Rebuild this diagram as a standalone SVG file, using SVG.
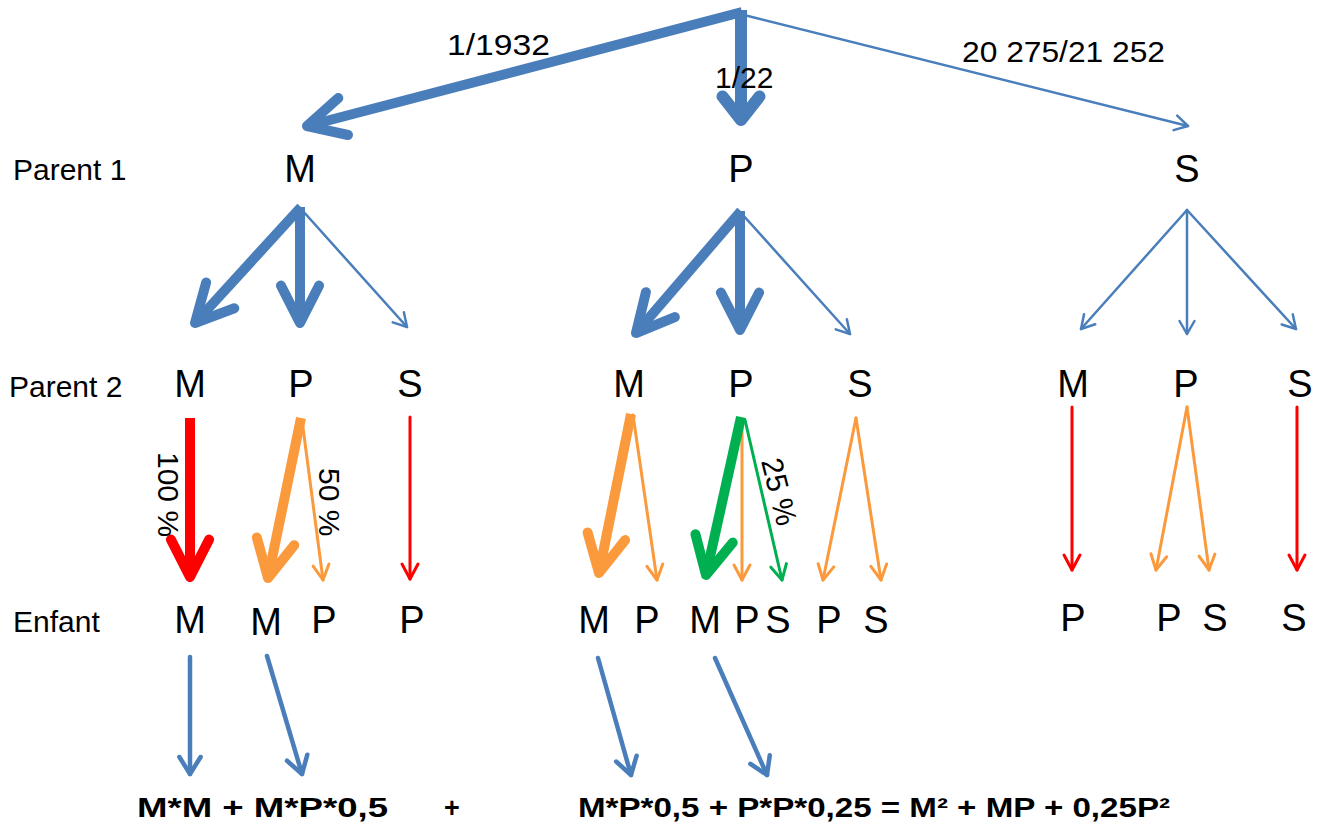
<svg xmlns="http://www.w3.org/2000/svg" width="1322" height="825" viewBox="0 0 1322 825">
<style>
text{font-family:"Liberation Sans",Arial,sans-serif;fill:#000}
.lbl{font-size:30px}
.big{font-size:38px;text-anchor:middle}
.frm{font-size:27px;font-weight:bold}
.c{fill:none;stroke-linecap:round;stroke-linejoin:round}
.b10{stroke:#4A7EBB;stroke-width:10;stroke-linecap:butt}
.b12{stroke:#4A7EBB;stroke-width:12;stroke-linecap:butt}
.b3{stroke:#4A7EBB;stroke-width:2.5}
.b5{stroke:#4A7EBB;stroke-width:4.5}
.r10{stroke:#FF0000;stroke-width:10;stroke-linecap:butt}
.r3{stroke:#FF0000;stroke-width:3}
.o10{stroke:#FB9A3C;stroke-width:10;stroke-linecap:butt}
.o3{stroke:#FB9A3C;stroke-width:3}
.g10{stroke:#00B050;stroke-width:10;stroke-linecap:butt}
.g3{stroke:#00B050;stroke-width:3}
</style>
<defs>
<marker id="hBigB" markerUnits="userSpaceOnUse" orient="auto" overflow="visible" refX="0" refY="0" markerWidth="1" markerHeight="1"><path d="M-37.4,-19.1 L0,0 L-37.4,19.1" class="c" stroke="#4A7EBB" stroke-width="10"/></marker>
<marker id="hTopB" markerUnits="userSpaceOnUse" orient="auto" overflow="visible" refX="0" refY="0" markerWidth="1" markerHeight="1"><path d="M-23.6,-18.5 L0,0 L-23.6,18.5" class="c" stroke="#4A7EBB" stroke-width="12"/></marker>
<marker id="hThinB" markerUnits="userSpaceOnUse" orient="auto" overflow="visible" refX="0" refY="0" markerWidth="1" markerHeight="1"><path d="M-13,-7.5 L0,0 L-13,7.5" class="c" stroke="#4A7EBB" stroke-width="2.5"/></marker>
<marker id="hBotB" markerUnits="userSpaceOnUse" orient="auto" overflow="visible" refX="0" refY="0" markerWidth="1" markerHeight="1"><path d="M-17,-10.6 L0,0 L-17,10.6" class="c" stroke="#4A7EBB" stroke-width="4.5"/></marker>
<marker id="hBigR" markerUnits="userSpaceOnUse" orient="auto" overflow="visible" refX="0" refY="0" markerWidth="1" markerHeight="1"><path d="M-37.4,-19.1 L0,0 L-37.4,19.1" class="c" stroke="#FF0000" stroke-width="10"/></marker>
<marker id="hBigO" markerUnits="userSpaceOnUse" orient="auto" overflow="visible" refX="0" refY="0" markerWidth="1" markerHeight="1"><path d="M-37.4,-19.1 L0,0 L-37.4,19.1" class="c" stroke="#FB9A3C" stroke-width="10"/></marker>
<marker id="hBigG" markerUnits="userSpaceOnUse" orient="auto" overflow="visible" refX="0" refY="0" markerWidth="1" markerHeight="1"><path d="M-37.4,-19.1 L0,0 L-37.4,19.1" class="c" stroke="#00B050" stroke-width="10"/></marker>
<marker id="hThinR" markerUnits="userSpaceOnUse" orient="auto" overflow="visible" refX="0" refY="0" markerWidth="1" markerHeight="1"><path d="M-15,-8 L0,0 L-15,8" class="c" stroke="#FF0000" stroke-width="3"/></marker>
<marker id="hThinO" markerUnits="userSpaceOnUse" orient="auto" overflow="visible" refX="0" refY="0" markerWidth="1" markerHeight="1"><path d="M-15,-8 L0,0 L-15,8" class="c" stroke="#FB9A3C" stroke-width="3"/></marker>
<marker id="hThinG" markerUnits="userSpaceOnUse" orient="auto" overflow="visible" refX="0" refY="0" markerWidth="1" markerHeight="1"><path d="M-15,-8 L0,0 L-15,8" class="c" stroke="#00B050" stroke-width="3"/></marker>
</defs>

<g id="connectors">
<!-- top -->
<path class="c b10" d="M742,12 L307,126" marker-end="url(#hBigB)"/>
<path class="c b12" d="M741,10 L741,120" marker-end="url(#hTopB)"/>
<path class="c b3" d="M740,14 L1188,126" marker-end="url(#hThinB)"/>
<!-- parent 1 M -->
<path class="c b10" d="M301,207 L195,323" marker-end="url(#hBigB)"/>
<path class="c b10" d="M300,207 L300,323" marker-end="url(#hBigB)"/>
<path class="c b3" d="M302,210 L407,327" marker-end="url(#hThinB)"/>
<!-- parent 1 P -->
<path class="c b10" d="M741,211 L636,333" marker-end="url(#hBigB)"/>
<path class="c b10" d="M740,211 L740,330" marker-end="url(#hBigB)"/>
<path class="c b3" d="M742,214 L850,334" marker-end="url(#hThinB)"/>
<!-- parent 1 S -->
<path class="c b3" d="M1187,210 L1081,329" marker-end="url(#hThinB)"/>
<path class="c b3" d="M1187,210 L1187,334" marker-end="url(#hThinB)"/>
<path class="c b3" d="M1187,210 L1296,329" marker-end="url(#hThinB)"/>
<!-- parent 2 left group -->
<path class="c r10" d="M190,418 L190,577" marker-end="url(#hBigR)"/>
<path class="c o10" d="M301,418 L268,578" marker-end="url(#hBigO)"/>
<path class="c o3" d="M302,420 L323,580" marker-end="url(#hThinO)"/>
<path class="c r3" d="M410,417 L410,579" marker-end="url(#hThinR)"/>
<!-- parent 2 middle group -->
<path class="c o10" d="M631,414 L599,573" marker-end="url(#hBigO)"/>
<path class="c o3" d="M633,415 L657,580" marker-end="url(#hThinO)"/>
<path class="c o3" d="M742,420 L742,580" marker-end="url(#hThinO)"/>
<path class="c g3" d="M745,420 L782,580" marker-end="url(#hThinG)"/>
<path class="c g10" d="M741,417 L706,575" marker-end="url(#hBigG)"/>
<path class="c o3" d="M856,418 L823,580" marker-end="url(#hThinO)"/>
<path class="c o3" d="M856,418 L881,580" marker-end="url(#hThinO)"/>
<!-- parent 2 right group -->
<path class="c r3" d="M1072,407 L1072,570" marker-end="url(#hThinR)"/>
<path class="c o3" d="M1187,407 L1156,570" marker-end="url(#hThinO)"/>
<path class="c o3" d="M1187,407 L1209,570" marker-end="url(#hThinO)"/>
<path class="c r3" d="M1297,407 L1297,570" marker-end="url(#hThinR)"/>
<!-- bottom -->
<path class="c b5" d="M190,657 L190,774" marker-end="url(#hBotB)"/>
<path class="c b5" d="M267,656 L302,774" marker-end="url(#hBotB)"/>
<path class="c b5" d="M598,658 L631,775" marker-end="url(#hBotB)"/>
<path class="c b5" d="M715,658 L767,775" marker-end="url(#hBotB)"/>
</g>

<g id="edge-labels">
<text class="lbl" x="447" y="55" font-size="31" textLength="103" lengthAdjust="spacingAndGlyphs">1/1932</text>
<text class="lbl" x="715" y="88">1/22</text>
<text class="lbl" x="962" y="62" textLength="203" lengthAdjust="spacingAndGlyphs">20 275/21 252</text>
<text class="lbl" transform="translate(158,452) rotate(90)">100 %</text>
<text class="lbl" transform="translate(319,468) rotate(90)">50 %</text>
<text class="lbl" transform="translate(761,461) rotate(76)">25 %</text>
</g>

<g id="row-labels">
<text class="lbl" x="13" y="180">Parent 1</text>
<text class="lbl" x="9" y="397">Parent 2</text>
<text class="lbl" x="13" y="632">Enfant</text>
</g>

<g id="parent1">
<text class="big" x="300" y="182">M</text>
<text class="big" x="741" y="182">P</text>
<text class="big" x="1187" y="182">S</text>
</g>

<g id="parent2">
<text class="big" x="190" y="397">M</text>
<text class="big" x="301" y="397">P</text>
<text class="big" x="410" y="397">S</text>
<text class="big" x="629" y="397">M</text>
<text class="big" x="741" y="397">P</text>
<text class="big" x="860" y="397">S</text>
<text class="big" x="1073" y="397">M</text>
<text class="big" x="1186" y="397">P</text>
<text class="big" x="1300" y="397">S</text>
</g>

<g id="enfant">
<text class="big" x="190" y="633">M</text>
<text class="big" x="266" y="635">M</text>
<text class="big" x="324" y="633">P</text>
<text class="big" x="412" y="633">P</text>
<text class="big" x="594" y="633">M</text>
<text class="big" x="647" y="633">P</text>
<text class="big" x="705" y="633">M</text>
<text class="big" x="747" y="633">P</text>
<text class="big" x="778" y="633">S</text>
<text class="big" x="829" y="633">P</text>
<text class="big" x="876" y="633">S</text>
<text class="big" x="1073" y="631">P</text>
<text class="big" x="1169" y="631">P</text>
<text class="big" x="1215" y="631">S</text>
<text class="big" x="1294" y="631">S</text>
</g>

<g id="formula">
<text class="frm" x="137" y="817" textLength="251" lengthAdjust="spacingAndGlyphs">M*M + M*P*0,5</text>
<text class="frm" x="452" y="817" text-anchor="middle">+</text>
<text class="frm" x="578" y="817" textLength="592" lengthAdjust="spacingAndGlyphs">M*P*0,5 + P*P*0,25 = M² + MP + 0,25P²</text>
</g>
</svg>
